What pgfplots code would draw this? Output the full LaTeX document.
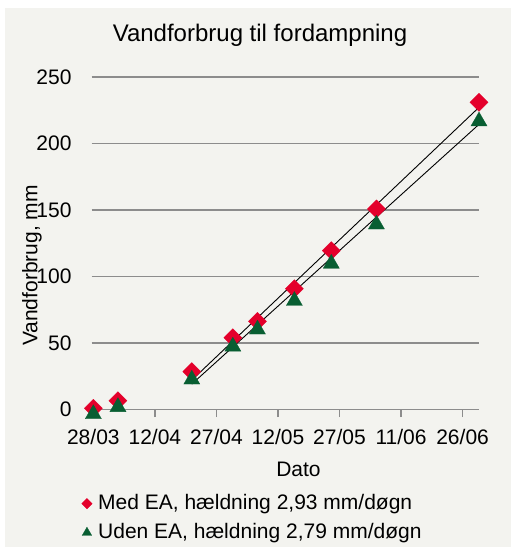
\documentclass[border=0pt]{standalone}
\usepackage{pgfplots}
\pgfplotsset{compat=1.18}
\usepackage{fontspec}
\setmainfont{Liberation Sans}
\definecolor{bg}{RGB}{243,243,239}
\definecolor{myred}{RGB}{228,0,43}
\definecolor{mygreen}{RGB}{8,94,50}
\definecolor{gridgray}{RGB}{140,140,140}
\begin{document}
\begin{tikzpicture}
\useasboundingbox (0,0) rectangle (511pt,547pt);
\fill[white] (0,0) rectangle (511pt,547pt);
\fill[bg] (5pt,0) rectangle (511pt,539pt);
\node[anchor=base, font=\fontsize{24}{28}\selectfont] at (260pt,505pt) {Vandforbrug til fordampning};
\node[anchor=base, font=\fontsize{21}{25}\selectfont] at (298.5pt,70pt) {Dato};
\node[anchor=base, rotate=90, font=\fontsize{21}{25}\selectfont] at (37.5pt,281.5pt) {Vandforbrug, mm};
\begin{axis}[
  at={(91.7pt,137.5pt)}, anchor=south west,
  scale only axis, width=387.3pt, height=332.5pt,
  xmin=-0.4, xmax=94, ymin=0, ymax=250,
  clip=false,
  axis lines*=left, axis line style={draw=none},
  ytick={0,50,...,250}, xtick={0,15,...,90},
  xticklabels={28/03,12/04,27/04,12/05,27/05,11/06,26/06},
  ymajorgrids, grid style={gridgray, line width=1.3pt},
  tick align=outside, major tick length=7.5pt,
  xtick style={gridgray, line width=1.3pt}, ytick style={draw=none},
  tick label style={font=\fontsize{21}{25}\selectfont},
  /pgf/number format/assume math mode=true,
  yticklabel style={anchor=east, inner sep=0pt, xshift=-12.5pt},
  xticklabel style={anchor=base, inner sep=0pt, yshift=-27pt},
  legend style={at={(axis description cs:-0.034,-0.248)}, anchor=north west,
    draw=none, fill=none, font=\fontsize{21}{25}\selectfont, row sep=10pt,
    cells={anchor=west}, nodes={inner sep=0pt, text height=15pt, text depth=4pt},
    /tikz/every odd column/.style={column sep=6pt}},
  legend cell align=left,
]
\addplot[forget plot, only marks, color=myred, mark=square*, mark size=6.4pt, mark options={rotate=45, draw=myred, fill=myred, line width=0.3pt}]
 coordinates {(0,0.9)(6,6.6)(24,28.5)(34,54)(40,66.3)(49,90.8)(58,119.4)(69,150.8)(94,231)};
\addplot[forget plot, only marks, color=mygreen, mark=triangle*, mark size=9.3pt, mark options={yshift=-2.8pt, draw=mygreen, fill=mygreen, line width=0.3pt}]
 coordinates {(0,-1.3)(6,4.0)(24,24.7)(34,49.5)(40,62.3)(49,83.8)(58,111.8)(69,141.3)(94,218.8)};
\addplot[forget plot, black, line width=0.9pt] coordinates {(24,22.1)(94,227.2)};
\addplot[forget plot, black, line width=0.9pt] coordinates {(24,19.1)(94,214.4)};
\addlegendimage{only marks, color=myred, mark=square*, mark size=3.7pt, mark options={rotate=45, draw=myred, fill=myred, line width=0.3pt}}
\addlegendentry{Med EA, hældning 2,93 mm/døgn}
\addlegendimage{only marks, color=mygreen, mark=triangle*, mark size=5.5pt, mark options={draw=mygreen, fill=mygreen, line width=0.3pt}}
\addlegendentry{Uden EA, hældning 2,79 mm/døgn}
\end{axis}
\end{tikzpicture}
\end{document}
